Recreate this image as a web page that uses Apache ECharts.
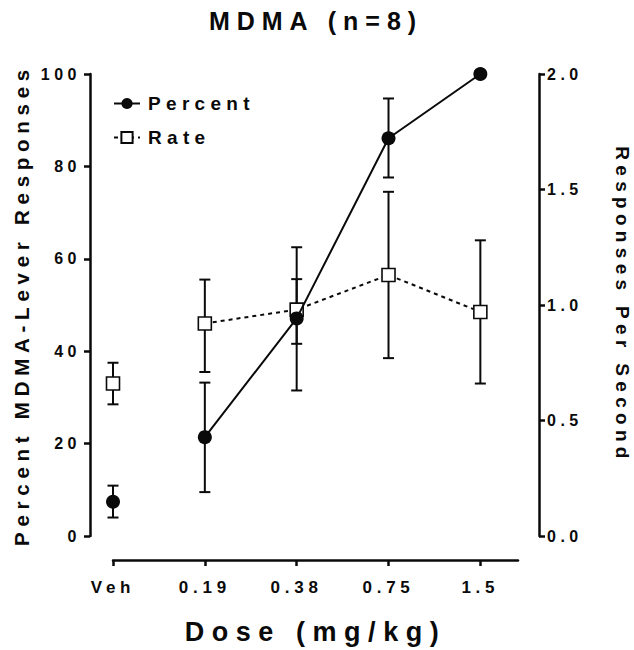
<!DOCTYPE html>
<html>
<head>
<meta charset="utf-8">
<script src="https://cdn.jsdelivr.net/npm/echarts@6/dist/echarts.min.js"></script>
<style>
  html, body { margin: 0; padding: 0; background: #fff; }
  #mainchart { width: 634px; height: 650px; }
  /* the original uses wide letter spacing everywhere */
  #mainchart text { letter-spacing: 0.28em; }
</style>
</head>
<body>
<div id="mainchart"></div>
<script>
// doses (x axis)
var categories = ['Veh', '0.19', '0.38', '0.75', '1.5'];

// percent MDMA-lever responses (left axis), mean and error bar ends
var percentMean = [7.4, 21.4, 47.1, 86.1, 100];
var percentLow  = [4.0, 9.5, 41.6, 77.6, 100];
var percentHigh = [10.9, 33.2, 55.6, 94.7, 100];

// responses per second (right axis)
var rateMean = [0.66, 0.92, 0.98, 1.13, 0.97];
var rateLow  = [0.57, 0.71, 0.63, 0.77, 0.66];
var rateHigh = [0.75, 1.11, 1.25, 1.49, 1.28];

var rightTicks = ['0.0', '0.5', '1.0', '1.5', '2.0'];

var FONT = 'Liberation Sans';
var INK = '#0a0a0a';

var myChart = echarts.init(document.getElementById('mainchart'), null, { renderer: 'svg' });

function points(values, from, to) {
    var out = [];
    for (var i = from; i <= to; i++) out.push([i, values[i]]);
    return out;
}

function errorBars(name, lows, highs, axisIndex) {
    return {
        name: name,
        type: 'custom',
        yAxisIndex: axisIndex,
        z: 1,
        silent: true,
        data: categories.map(function (c, i) { return [i, lows[i], highs[i]]; }),
        renderItem: function (params, api) {
            var x = api.value(0);
            var lo = api.coord([x, api.value(1)]);
            var hi = api.coord([x, api.value(2)]);
            var w = 5.5;
            var st = { stroke: INK, lineWidth: 2, fill: null };
            return {
                type: 'group',
                children: [
                    { type: 'line', shape: { x1: lo[0], y1: lo[1], x2: hi[0], y2: hi[1] }, style: st },
                    { type: 'line', shape: { x1: lo[0] - w, y1: lo[1], x2: lo[0] + w, y2: lo[1] }, style: st },
                    { type: 'line', shape: { x1: hi[0] - w, y1: hi[1], x2: hi[0] + w, y2: hi[1] }, style: st }
                ]
            };
        }
    };
}

var circle = { symbol: 'circle', symbolSize: 14, itemStyle: { color: INK, borderWidth: 0, opacity: 1 } };
var square = { symbol: 'rect', symbolSize: 13, itemStyle: { color: '#fff', borderColor: INK, borderWidth: 1.6, opacity: 1 } };

var option = {
    animation: false,
    textStyle: { fontFamily: FONT, fontWeight: 'bold', color: INK },
    title: {
        text: 'MDMA (n=8)',
        left: 311,
        textAlign: 'center',
        top: 3,
        textStyle: { fontFamily: FONT, fontWeight: 'bold', fontSize: 25, color: INK }
    },
    legend: {
        data: ['Percent', 'Rate'],
        orient: 'vertical',
        left: 108,
        top: 89,
        itemWidth: 26,
        itemHeight: 14,
        itemGap: 15,
        textStyle: { fontFamily: FONT, fontWeight: 'bold', fontSize: 19, color: INK, padding: [0, 0, 0, 3] }
    },
    grid: { left: 113, right: 116, top: 74, bottom: 114, outerBoundsMode: 'none' },
    xAxis: {
        type: 'value',
        min: 0,
        max: 4.41,
        offset: 24,
        splitLine: { show: false },
        axisLine: { onZero: false, lineStyle: { color: INK, width: 2.5 } },
        axisTick: { customValues: [0, 1, 2, 3, 4], length: 6, lineStyle: { color: INK, width: 2.5 } },
        axisLabel: {
            customValues: [0, 1, 2, 3, 4],
            formatter: function (v) { return categories[Math.round(v)]; },
            fontFamily: FONT, fontWeight: 'bold', fontSize: 17, color: INK, margin: 19
        },
        name: 'Dose (mg/kg)',
        nameLocation: 'middle',
        nameGap: 58,
        nameTextStyle: { fontFamily: FONT, fontWeight: 'bold', fontSize: 27, color: INK }
    },
    yAxis: [{
        type: 'value',
        position: 'left',
        min: 0,
        max: 100,
        interval: 20,
        offset: 23,
        splitLine: { show: false },
        axisLine: { show: true, onZero: false, lineStyle: { color: INK, width: 2.5 } },
        axisTick: { show: true, length: 6, lineStyle: { color: INK, width: 2.5 } },
        axisLabel: { fontFamily: FONT, fontWeight: 'bold', fontSize: 16, color: INK, margin: 9 },
        name: 'Percent MDMA-Lever Responses',
        nameLocation: 'middle',
        nameRotate: 90,
        nameGap: 58,
        nameTextStyle: { fontFamily: FONT, fontWeight: 'bold', fontSize: 20.5, color: INK }
    }, {
        type: 'value',
        position: 'right',
        min: 0,
        max: 2,
        interval: 0.5,
        offset: 21,
        splitLine: { show: false },
        axisLine: { show: true, onZero: false, lineStyle: { color: INK, width: 2.5 } },
        axisTick: { show: true, length: 6, lineStyle: { color: INK, width: 2.5 } },
        axisLabel: {
            formatter: function (v) { return rightTicks[Math.round(v * 2)]; },
            fontFamily: FONT, fontWeight: 'bold', fontSize: 16, color: INK, margin: 8
        },
        name: 'Responses Per Second',
        nameLocation: 'middle',
        nameRotate: -90,
        nameGap: 74,
        nameTextStyle: { fontFamily: FONT, fontWeight: 'bold', fontSize: 19, color: INK }
    }],
    series: [
        errorBars('pctErr', percentLow, percentHigh, 0),
        errorBars('rateErr', rateLow, rateHigh, 1),
        Object.assign({
            name: 'Rate',
            type: 'line',
            yAxisIndex: 1,
            z: 3,
            data: points(rateMean, 1, 4),
            lineStyle: { color: INK, width: 2, type: [4, 4] }
        }, square),
        Object.assign({
            name: 'Percent',
            type: 'line',
            yAxisIndex: 0,
            z: 4,
            data: points(percentMean, 1, 4),
            lineStyle: { color: INK, width: 2 }
        }, circle),
        Object.assign({ name: 'Rate Veh', type: 'scatter', yAxisIndex: 1, z: 3, data: points(rateMean, 0, 0) }, square),
        Object.assign({ name: 'Percent Veh', type: 'scatter', yAxisIndex: 0, z: 4, data: points(percentMean, 0, 0) }, circle)
    ]
};

myChart.setOption(option);
</script>
</body>
</html>
